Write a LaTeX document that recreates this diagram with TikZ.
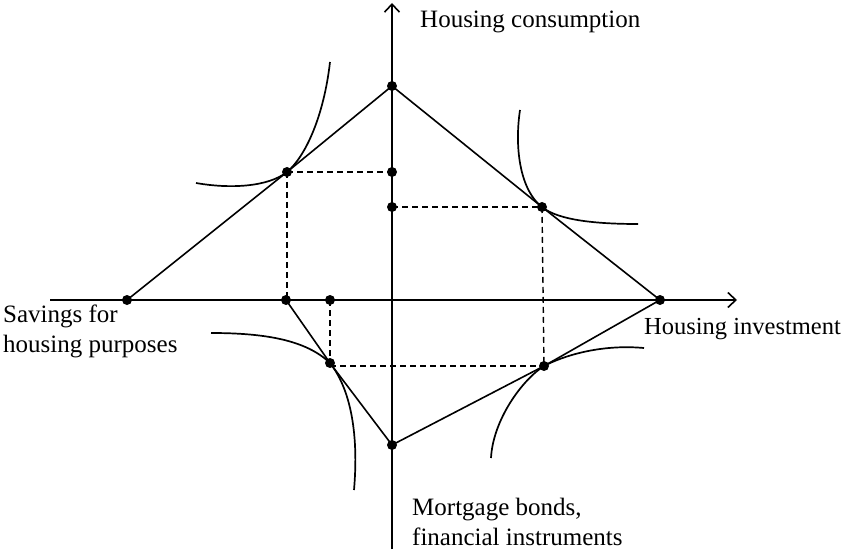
\documentclass[tikz,border=0pt]{standalone}
\usepackage{fontspec}
\setmainfont{Liberation Serif}
\usetikzlibrary{arrows.meta}
\begin{document}
\begin{tikzpicture}[x=1pt,y=-1pt,
  axis/.style={line width=2.2pt,-{Straight Barb[length=8pt,width=15pt,line width=1.6pt]}},
  ln/.style={line width=1.6pt},
  dsh/.style={line width=1.4pt,dash pattern=on 6pt off 4pt},
  crv/.style={line width=1.7pt},
  dot/.style={circle,fill=black,inner sep=0pt,minimum size=10pt},
  lbl/.style={font=\fontsize{25}{30}\selectfont,inner sep=0pt,align=left}]
\useasboundingbox (0,0) rectangle (846,556);
% axes
\coordinate (xa) at (50,300);
\coordinate (xb) at (737,300);
\coordinate (ya) at (392,549);
\coordinate (yb) at (392,3);
\draw[axis] (xa) -- (xb);
\draw[axis] (ya) -- (yb);
% points
\node[dot] (T) at (392,86) {};
\node[dot] (Q1) at (392,172) {};
\node[dot] (Q2) at (392,207) {};
\node[dot] (B) at (392,445) {};
\node[dot] (A1) at (127,300) {};
\node[dot] (A2) at (286,300) {};
\node[dot] (A3) at (330,300) {};
\node[dot] (A4) at (660,300) {};
\node[dot] (P1) at (287,172) {};
\node[dot] (P2) at (542,207) {};
\node[dot] (P3) at (544,366) {};
\node[dot] (P4) at (330,363) {};
% solid lines
\draw[ln] (A1.center) -- (P1.center) -- (T.center) -- (P2.center) -- (A4.center);
\draw[ln] (A4.center) -- (P3.center) -- (B.center) -- (P4.center) -- (A2.center);
% dashed
\draw[dsh] (P1.center) -- (Q1.center);
\draw[dsh] (P1.center) -- (P1.center |- A2.center);
\draw[dsh] (Q2.center) -- (P2.center);
\draw[dsh] (P2.center) -- (P3.center);
\draw[dsh] (A3.center) -- (P4.center);
\draw[dsh] (P4.center |- P3.center) -- (P3.center);
% indifference curves
\draw[crv] (330,62) .. controls (324,115) and (306,156) .. (287,172)
  .. controls (268,187) and (230,189) .. (196,183);
\draw[crv] (520,110) .. controls (514,150) and (521,191) .. (542,207)
  .. controls (559,221) and (600,224) .. (638,224);
\draw[crv] (211,333) .. controls (265,333) and (306,340) .. (330,363)
  .. controls (345,382) and (360,420) .. (354,490);
\draw[crv] (491,458) .. controls (493,420) and (522,380) .. (544,366)
  .. controls (563,356) and (600,344) .. (644,348);
% labels
\node[lbl,anchor=base west] (lc) at (420,28) {Housing consumption};
\node[lbl,anchor=base west,font=\fontsize{24.5}{30}\selectfont] (li) at (644,334) {Housing investment};
\node[lbl,anchor=north west] (ls) at (3,305) {Savings for\\housing purposes};
\node[lbl,anchor=north west] (lm) at (412,498) {Mortgage bonds,\\financial instruments};
\end{tikzpicture}
\end{document}
